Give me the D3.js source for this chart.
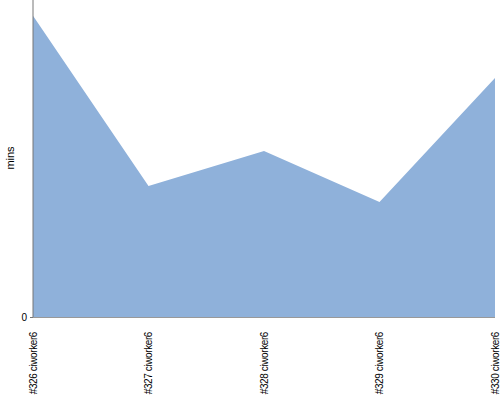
<!DOCTYPE html>
<html><head><meta charset="utf-8">
<script src="https://cdn.jsdelivr.net/npm/d3@7"></script>
<style>body{margin:0;background:#fff}</style>
</head><body>
<svg id="c" width="500" height="400"></svg>
<script>
const builds = ["#326 ciworker6","#327 ciworker6","#328 ciworker6","#329 ciworker6","#330 ciworker6"];
const mins = [19.0, 8.26, 10.47, 7.26, 15.08];
const yTicks = [0];

const svg = d3.select("#c");
const x = d3.scalePoint().domain(builds).range([33,495]);
const y = d3.scaleLinear().domain([0,20]).range([317,0]);

const area = d3.area().x((d,i)=>x(builds[i])).y0(y(0)).y1(d=>y(d));
svg.append("path").datum(mins).attr("d",area).attr("fill","#8fb1da");

// y axis
const ya = svg.append("g").attr("transform","translate(33,0)")
  .call(d3.axisLeft(y).tickValues(yTicks).tickSize(3).tickPadding(3));
ya.select(".domain").attr("d","M0,0V317").attr("stroke","#777");
ya.selectAll(".tick line").attr("stroke","#777");
ya.selectAll("text").attr("font-family","Liberation Sans, Arial, sans-serif").attr("font-size",10).attr("fill","#000");

// x axis line
svg.append("line").attr("x1",33).attr("x2",495).attr("y1",317.5).attr("y2",317.5).attr("stroke","#999");

// x labels
svg.append("g").selectAll("text").data(builds).join("text")
  .attr("transform",d=>`translate(${x(d)+3.5},332) rotate(-90)`)
  .attr("text-anchor","end")
  .attr("font-family","Liberation Sans, Arial, sans-serif")
  .attr("font-size",10).attr("letter-spacing","-0.4px")
  .text(d=>d);

svg.append("text").attr("transform","translate(14,158) rotate(-90)")
  .attr("text-anchor","middle").attr("font-family","Liberation Sans, Arial, sans-serif")
  .attr("font-size",11).text("mins");
</script>
</body></html>
